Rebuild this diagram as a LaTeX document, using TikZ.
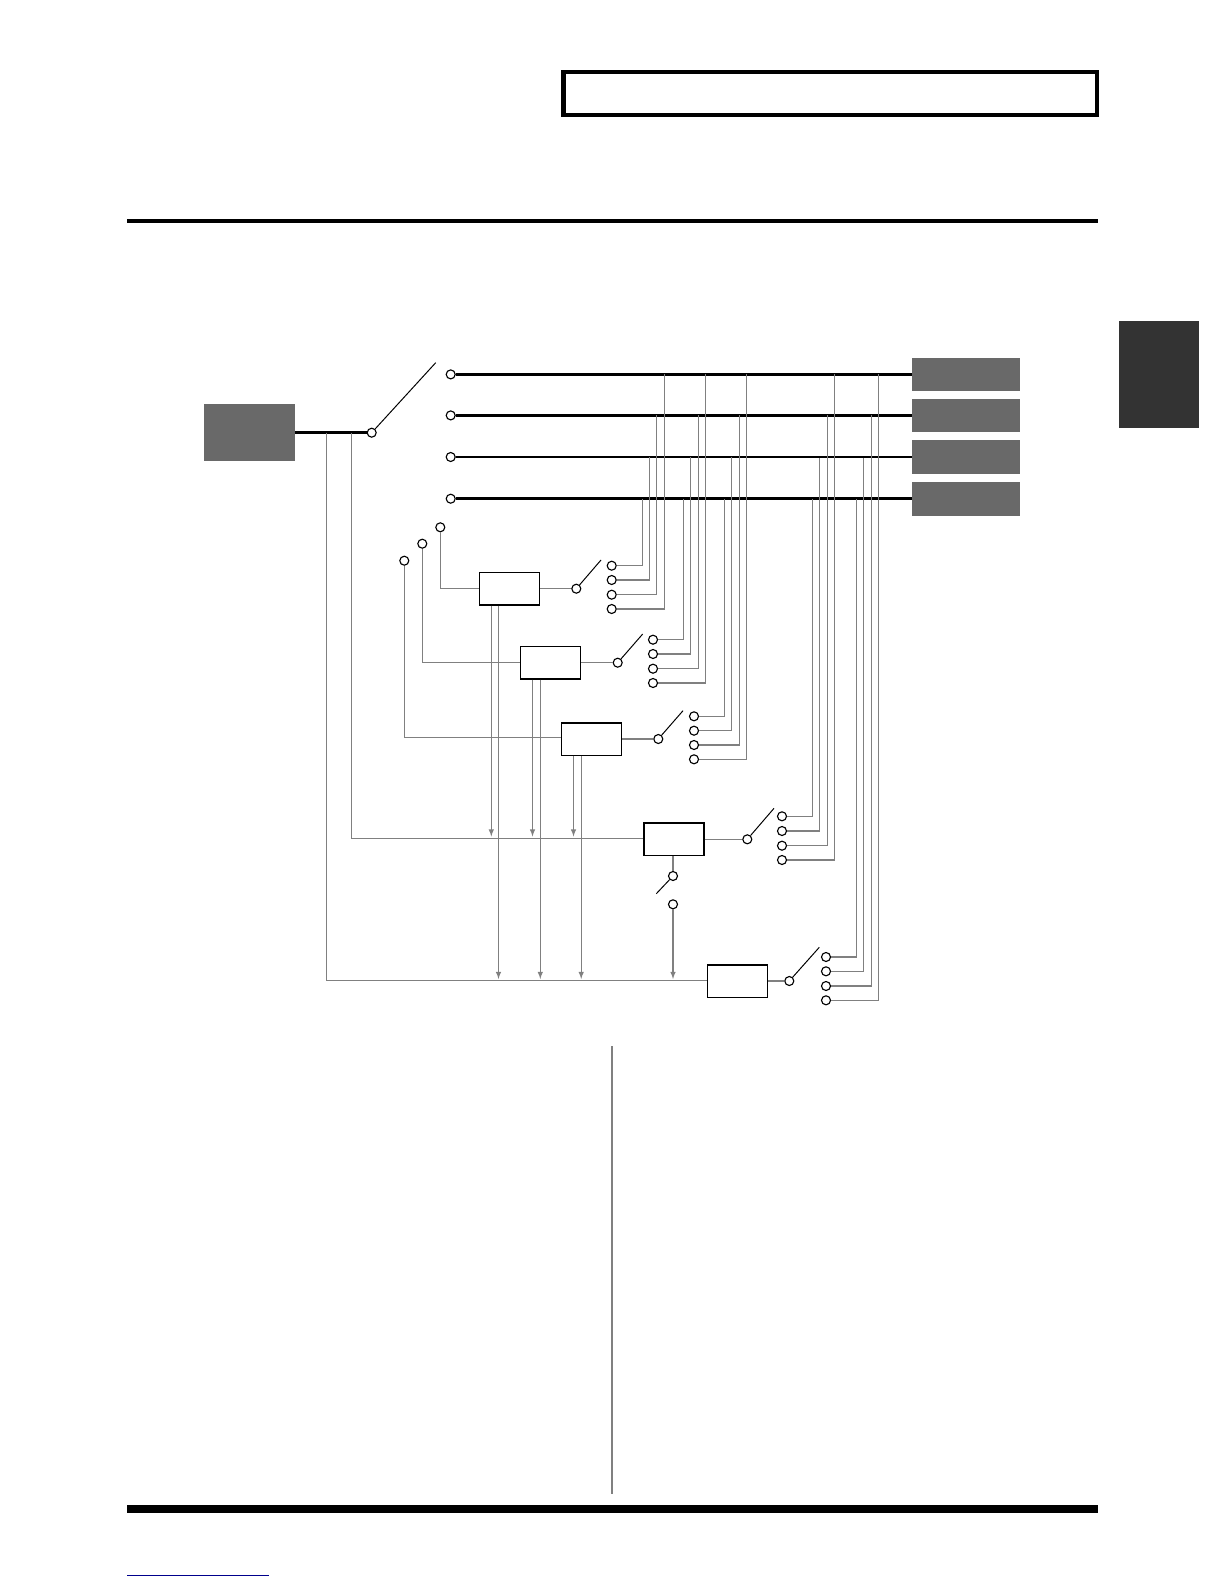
\documentclass[tikz,border=0pt]{standalone}
\usepackage{tikz}
\tikzset{
	x=0.025cm, y=-0.025cm,
	terminal/.style={circle, draw=black, fill=white, line width=0.8pt, inner sep=0, minimum size=0.225cm},
	fxbox/.style={rectangle, draw=black, fill=white, line width=1pt, inner sep=0, minimum width=1.5cm, minimum height=0.81cm},
	outbox/.style={rectangle, fill=black!59, inner sep=0, outer sep=0, minimum width=2.7cm, minimum height=0.84cm},
	busline/.style={line width=2.4pt, color=black},
	sigline/.style={line width=0.75pt, color=black!50},
	sigarrow/.style={line width=0.75pt, color=black!50, -latex},
	blade/.style={line width=0.7pt, color=black}
}

\begin{document}
\begin{tikzpicture}
		%%%%% START %%%%%
		\useasboundingbox (0, 0) rectangle (1224, 1584);
		
		\draw[line width=2.9pt] (563.5, 72) rectangle (1097, 115);
		\draw[fill=black, draw=none] (127, 219) rectangle (1097.5, 223.3);
		\draw[fill=black, draw=none] (127, 1505) rectangle (1097.5, 1513);
		\draw[fill=black!80, draw=none] (1119, 321) rectangle (1199, 428);
		\draw[line width=1.4pt, color=black!50] (612, 1046) -- (612, 1493.5);
		\draw[line width=1pt, color=blue!55!black] (127, 1575.3) -- (268.8, 1575.3);
		
		\node[outbox, minimum width=2.275cm, minimum height=1.42cm] (in) at (249.5, 432.7) {};
		\node[outbox] (out1) at (966, 374.4) {};
		\node[outbox] (out2) at (966, 415.4) {};
		\node[outbox] (out3) at (966, 457) {};
		\node[outbox] (out4) at (966, 498.7) {};
		
		\node[terminal] (sw0) at (371.7, 432.7) {};
		\node[terminal] (o1) at (450.7, 374.4) {};
		\node[terminal] (o2) at (450.7, 415.4) {};
		\node[terminal] (o3) at (450.7, 457) {};
		\node[terminal] (o4) at (450.7, 498.7) {};
		\coordinate (bl0) at (435.7, 362.7);
		\coordinate (tap4) at (351.7, 432.7);
		\coordinate (tap5) at (326.3, 432.7);
		
		\draw[busline] (in) -- (sw0);
		\draw[blade] (sw0) -- (bl0);
		\draw[busline] (o1) -- (out1);
		\draw[busline] (o2) -- (out2);
		\draw[busline, line width=1.7pt] (o3) -- (out3);
		\draw[busline] (o4) -- (out4);
		
		\node[terminal] (c1) at (440.3, 527.3) {};
		\node[terminal] (c2) at (422.3, 543.7) {};
		\node[terminal] (c3) at (404.3, 560.7) {};
		
		\node[fxbox] (box1) at (509.7, 588.7) {};
		\node[fxbox] (box2) at (550.7, 662.7) {};
		\node[fxbox] (box3) at (591.5, 739) {};
		\node[fxbox] (box4) at (674, 839.3) {};
		\node[fxbox] (box5) at (737.7, 981) {};
		
		%%%%% first block %%%%%
		\node[terminal] (sw1) at (576.3, 588.7) {};
		\coordinate (bl1) at (601, 560);
		\node[terminal] (t11) at (611.7, 565.7) {};
		\node[terminal] (t12) at (611.7, 580) {};
		\node[terminal] (t13) at (611.7, 594.7) {};
		\node[terminal] (t14) at (611.7, 609) {};
		\coordinate (v11) at (642.7, 498.7);
		\coordinate (v12) at (649.7, 457);
		\coordinate (v13) at (656.7, 415.4);
		\coordinate (v14) at (664.5, 374.4);
		
		\draw[sigline] (c1) |- (box1);
		\draw[sigline] (box1) -- (sw1);
		\draw[blade] (sw1) -- (bl1);
		\draw[sigline] (t11) -| (v11);
		\draw[sigline] (t12) -| (v12);
		\draw[sigline] (t13) -| (v13);
		\draw[sigline] (t14) -| (v14);
		
		%%%%% second block %%%%%
		\node[terminal] (sw2) at (617.7, 662.7) {};
		\coordinate (bl2) at (642.7, 634);
		\node[terminal] (t21) at (653, 639.7) {};
		\node[terminal] (t22) at (653, 654) {};
		\node[terminal] (t23) at (653, 668.7) {};
		\node[terminal] (t24) at (653, 683) {};
		\coordinate (v21) at (683.5, 498.7);
		\coordinate (v22) at (690.5, 457);
		\coordinate (v23) at (698.3, 415.4);
		\coordinate (v24) at (705.5, 374.4);
		
		\draw[sigline] (c2) |- (box2);
		\draw[sigline] (box2) -- (sw2);
		\draw[blade] (sw2) -- (bl2);
		\draw[sigline] (t21) -| (v21);
		\draw[sigline] (t22) -| (v22);
		\draw[sigline] (t23) -| (v23);
		\draw[sigline] (t24) -| (v24);
		
		%%%%% third block %%%%%
		\node[terminal] (sw3) at (658.3, 739) {};
		\coordinate (bl3) at (683, 710.7);
		\node[terminal] (t31) at (694, 716.3) {};
		\node[terminal] (t32) at (694, 730.7) {};
		\node[terminal] (t33) at (694, 745) {};
		\node[terminal] (t34) at (694, 759.3) {};
		\coordinate (v31) at (724.5, 498.7);
		\coordinate (v32) at (731.5, 457);
		\coordinate (v33) at (739.5, 415.4);
		\coordinate (v34) at (746.5, 374.4);
		
		\draw[sigline] (c3) |- ([yshift=1.1pt]box3.west);
		\draw[sigline] (box3) -- (sw3);
		\draw[blade] (sw3) -- (bl3);
		\draw[sigline] (t31) -| (v31);
		\draw[sigline] (t32) -| (v32);
		\draw[sigline] (t33) -| (v33);
		\draw[sigline] (t34) -| (v34);
		
		%%%%% fourth block %%%%%
		\node[terminal] (sw4) at (747.3, 839.3) {};
		\coordinate (bl4) at (774, 808.3);
		\node[terminal] (t41) at (782, 816.3) {};
		\node[terminal] (t42) at (782, 831) {};
		\node[terminal] (t43) at (782, 845.7) {};
		\node[terminal] (t44) at (782, 860) {};
		\coordinate (v41) at (812.5, 498.7);
		\coordinate (v42) at (819.5, 458);
		\coordinate (v43) at (827.5, 415.4);
		\coordinate (v44) at (834.5, 374.4);
		
		\draw[sigline] (tap4) |- ([yshift=0.7pt]box4.west);
		\draw[sigline] (box4) -- (sw4);
		\draw[blade] (sw4) -- (bl4);
		\draw[sigline] (t41) -| (v41);
		\draw[sigline] (t42) -| (v42);
		\draw[sigline] (t43) -| (v43);
		\draw[sigline] (t44) -| (v44);
		
		%%%%% fifth block %%%%%
		\node[terminal] (sw5) at (789.3, 981) {};
		\coordinate (bl5) at (819.3, 947.3);
		\node[terminal] (t51) at (826, 957) {};
		\node[terminal] (t52) at (826, 971.3) {};
		\node[terminal] (t53) at (826, 986) {};
		\node[terminal] (t54) at (826, 1000.3) {};
		\coordinate (v51) at (856.5, 498.7);
		\coordinate (v52) at (863.5, 458);
		\coordinate (v53) at (871.5, 415.4);
		\coordinate (v54) at (878.5, 374.4);
		
		\draw[sigline] (tap5) |- ([yshift=0.5pt]box5.west);
		\draw[sigline] (box5) -- (sw5);
		\draw[blade] (sw5) -- (bl5);
		\draw[sigline] (t51) -| (v51);
		\draw[sigline] (t52) -| (v52);
		\draw[sigline] (t53) -| (v53);
		\draw[sigline] (t54) -| (v54);
		
		%%%%% send arrows %%%%%
		\coordinate (a11) at (491.3, 836.5);
		\coordinate (a12) at (498.5, 979);
		\coordinate (a21) at (532.5, 836.5);
		\coordinate (a22) at (540.3, 979);
		\coordinate (a31) at (573.5, 836.5);
		\coordinate (a32) at (581.2, 979);
		
		\draw[sigarrow] (a11|-box1.south) -- (a11);
		\draw[sigarrow] (a12|-box1.south) -- (a12);
		\draw[sigarrow] (a21|-box2.south) -- (a21);
		\draw[sigarrow] (a22|-box2.south) -- (a22);
		\draw[sigarrow] (a31|-box3.south) -- (a31);
		\draw[sigarrow] (a32|-box3.south) -- (a32);
		
		\node[terminal] (sd) at (673, 876) {};
		\node[terminal] (se) at (673, 904.3) {};
		\coordinate (bld) at (656.3, 893.7);
		\coordinate (ae) at (673, 979);
		
		\draw[sigline] (sd|-box4.south) -- (sd);
		\draw[blade] (sd) -- (bld);
		\draw[sigarrow] (se) -- (ae);
		%%%%% END %%%%%
	\end{tikzpicture}
\end{document}
